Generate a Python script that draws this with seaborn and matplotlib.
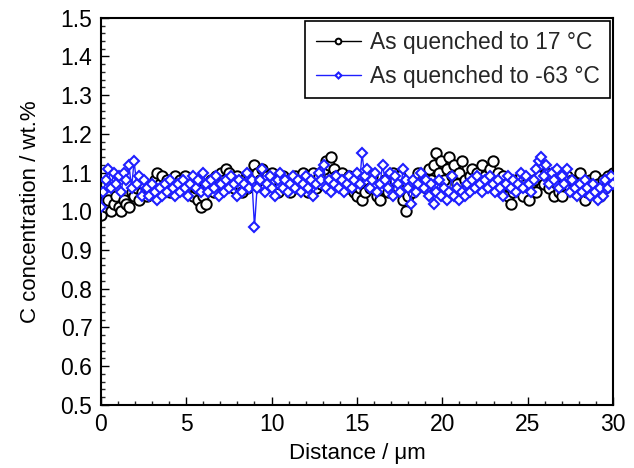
import numpy as np
import pandas as pd
import matplotlib
matplotlib.use("Agg")
import matplotlib.pyplot as plt
import seaborn as sns
from matplotlib.ticker import MultipleLocator

sns.set_theme(style="white")
plt.rcParams['font.family'] = ['Liberation Sans', 'DejaVu Sans']

step = 0.15
n_pts = 201
distance = [round(i * step, 2) for i in range(n_pts)]

conc_17 = [
    0.99, 1.02, 1.01, 1.03, 1.00, 1.02, 1.04, 1.01, 1.00, 1.03,
    1.02, 1.01, 1.05, 1.04, 1.06, 1.03, 1.05, 1.07, 1.04, 1.06,
    1.05, 1.08, 1.10, 1.07, 1.09, 1.06, 1.08, 1.05, 1.07, 1.09,
    1.06, 1.08, 1.07, 1.09, 1.05, 1.07, 1.04, 1.06, 1.03, 1.01,
    1.04, 1.02, 1.06, 1.08, 1.05, 1.09, 1.07, 1.10, 1.08, 1.11,
    1.10, 1.08, 1.06, 1.09, 1.07, 1.05, 1.08, 1.06, 1.09, 1.07,
    1.12, 1.10, 1.08, 1.11, 1.06, 1.09, 1.07, 1.10, 1.08, 1.05,
    1.07, 1.09, 1.06, 1.08, 1.05, 1.07, 1.09, 1.06, 1.08, 1.10,
    1.07, 1.05, 1.08, 1.10, 1.06, 1.09, 1.07, 1.11, 1.13, 1.12,
    1.14, 1.11, 1.09, 1.07, 1.10, 1.08, 1.06, 1.09, 1.07, 1.05,
    1.04, 1.06, 1.03, 1.05, 1.08, 1.06, 1.09, 1.07, 1.04, 1.03,
    1.06, 1.08, 1.05, 1.07, 1.10, 1.08, 1.06, 1.09, 1.03, 1.00,
    1.04, 1.07, 1.05, 1.08, 1.10, 1.07, 1.09, 1.06, 1.11, 1.08,
    1.12, 1.15, 1.10, 1.13, 1.08, 1.11, 1.14, 1.09, 1.12, 1.07,
    1.10, 1.13, 1.08, 1.06, 1.09, 1.11, 1.07, 1.10, 1.08, 1.12,
    1.09, 1.07, 1.11, 1.13, 1.08, 1.10, 1.06, 1.09, 1.07, 1.04,
    1.02, 1.05, 1.08, 1.06, 1.09, 1.04, 1.07, 1.03, 1.06, 1.08,
    1.05, 1.09, 1.12, 1.07, 1.10, 1.06, 1.08, 1.04, 1.07, 1.05,
    1.04, 1.07, 1.09, 1.06, 1.08, 1.05, 1.07, 1.10, 1.06, 1.03,
    1.05, 1.08, 1.06, 1.09, 1.07, 1.04, 1.08, 1.06, 1.09, 1.07,
    1.10,
]

conc_m63 = [
    1.01, 1.05, 1.08, 1.11, 1.06, 1.10, 1.07, 1.09, 1.05, 1.10,
    1.08, 1.12, 1.06, 1.13, 1.07, 1.09, 1.04, 1.08, 1.06, 1.04,
    1.07, 1.05, 1.03, 1.06, 1.04, 1.07, 1.05, 1.08, 1.06, 1.04,
    1.07, 1.05, 1.08, 1.06, 1.04, 1.07, 1.09, 1.06, 1.08, 1.05,
    1.10, 1.07, 1.05, 1.08, 1.06, 1.09, 1.04, 1.07, 1.05, 1.08,
    1.06, 1.09, 1.07, 1.04, 1.08, 1.05, 1.07, 1.10, 1.06, 1.08,
    0.96, 1.06, 1.08, 1.11, 1.05, 1.07, 1.09, 1.06, 1.04, 1.08,
    1.10, 1.06, 1.08, 1.05, 1.07, 1.09, 1.06, 1.08, 1.05, 1.07,
    1.09, 1.06, 1.08, 1.04, 1.07, 1.10, 1.08, 1.12, 1.06, 1.08,
    1.05, 1.07, 1.09, 1.06, 1.08, 1.05, 1.07, 1.09, 1.06, 1.08,
    1.10, 1.07, 1.15, 1.09, 1.11, 1.06, 1.08, 1.10, 1.05, 1.07,
    1.12, 1.08, 1.06, 1.10, 1.04, 1.09, 1.07, 1.05, 1.11, 1.08,
    1.06, 1.02, 1.08, 1.05, 1.07, 1.10, 1.06, 1.08, 1.04, 1.07,
    1.02, 1.05, 1.08, 1.04, 1.06, 1.03, 1.05, 1.09, 1.04, 1.06,
    1.03, 1.05, 1.04, 1.07, 1.05, 1.08, 1.06, 1.09, 1.07, 1.05,
    1.08, 1.06, 1.09, 1.07, 1.05, 1.08, 1.06, 1.04, 1.07, 1.09,
    1.06, 1.08, 1.05, 1.07, 1.10, 1.06, 1.09, 1.07, 1.05, 1.08,
    1.11, 1.13, 1.14, 1.09, 1.12, 1.07, 1.10, 1.08, 1.11, 1.06,
    1.09, 1.07, 1.11, 1.05, 1.08, 1.06, 1.04, 1.07, 1.05, 1.08,
    1.06, 1.04, 1.07, 1.05, 1.03, 1.06, 1.04, 1.08, 1.06, 1.09,
    1.07,
]

mean_level = 1.072

label_17 = "As quenched to 17 \u00b0C"
label_m63 = "As quenched to -63 \u00b0C"

df17 = pd.DataFrame({"x": distance, "y": conc_17})
dfm63 = pd.DataFrame({"x": distance, "y": conc_m63})

fig = plt.figure(figsize=(6.34, 4.68), dpi=100)
ax = fig.add_axes([0.159, 0.135, 0.808, 0.827])

ax.axhline(mean_level, color="#7fbf3f", lw=1.0, ls=(0, (1.5, 1.5)), alpha=0.8, zorder=1)

sns.lineplot(data=df17, x="x", y="y", ax=ax, color="black", lw=1.0,
             marker="o", markersize=7.5, markerfacecolor="white",
             markeredgecolor="black", markeredgewidth=1.4,
             label=label_17, estimator=None, sort=False, zorder=2)
sns.lineplot(data=dfm63, x="x", y="y", ax=ax, color="#1f1fff", lw=1.0,
             marker="D", markersize=5.5, markerfacecolor="white",
             markeredgecolor="#1f1fff", markeredgewidth=1.5,
             label=label_m63, estimator=None, sort=False, zorder=3)

ax.set_xlim(0, 30)
ax.set_ylim(0.5, 1.5)
ax.xaxis.set_major_locator(MultipleLocator(5))
ax.xaxis.set_minor_locator(MultipleLocator(1))
ax.yaxis.set_major_locator(MultipleLocator(0.1))
ax.yaxis.set_minor_locator(MultipleLocator(0.02))
ax.yaxis.set_major_formatter(matplotlib.ticker.FormatStrFormatter("%.1f"))

ax.tick_params(axis="both", which="major", direction="in", length=6, width=1.0,
               labelsize=16.5, colors="black", bottom=True, left=True, top=False, right=False, pad=6)
ax.tick_params(axis="both", which="minor", direction="in", length=3, width=1.0,
               bottom=True, left=True, top=False, right=False)
for s in ax.spines.values():
    s.set_color("black")
    s.set_linewidth(1.5)

ax.set_xlabel("Distance / \u03bcm", fontsize=16, color="black", labelpad=5)
ax.set_ylabel("C concentration / wt.%", fontsize=16, color="black", labelpad=14)

leg = ax.legend(loc="upper right", fontsize=16.4, frameon=True, fancybox=False,
                edgecolor="black", framealpha=1, handlelength=2.0, borderpad=0.45,
                labelspacing=0.5, borderaxespad=0.12, markerscale=0.55, handletextpad=0.4)
leg.get_frame().set_linewidth(1.2)

fig.savefig("out.png", dpi=100)
